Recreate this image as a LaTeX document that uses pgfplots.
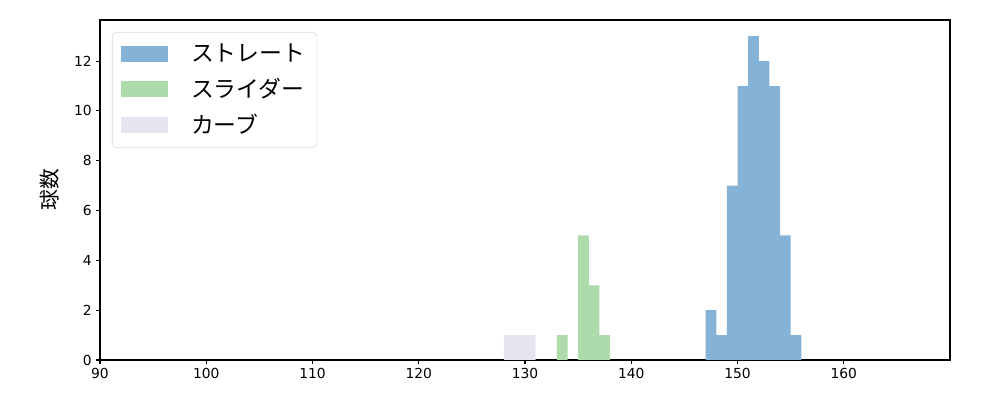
\documentclass[border=0pt]{standalone}
\usepackage{fontspec}
\setmainfont{DejaVu Sans}
\newfontfamily\jp{Noto Sans CJK JP}
\usepackage{pgfplots}
\pgfplotsset{compat=1.18}
\definecolor{cblue}{RGB}{132,179,215}
\definecolor{cgreen}{RGB}{173,219,172}
\definecolor{clav}{RGB}{230,230,241}
\begin{document}
\begin{tikzpicture}
\begin{axis}[
  scale only axis, width=8.5in, height=3.4in,
  xmin=90, xmax=170, ymin=0, ymax=13.65,
  xtick={90,100,...,160}, ytick={0,2,...,12},
  xtick pos=bottom, ytick pos=left,
  tick align=outside, tick style={black, line width=0.8pt},
  major tick length=0.035in,
  axis line style={line width=0.8pt},
  /pgf/number format/assume math mode=true,
  ticklabel style={font=\fontsize{10}{12}\selectfont},
  ylabel={\jp 球数}, ylabel style={font=\fontsize{15}{18}\selectfont},
  ylabel shift=0.05in,
  legend cell align=left,
  legend style={at={(0.0141,0.9647)}, anchor=north west, draw=black!15, rounded corners=3pt,
    font=\jp\fontsize{16.5}{19}\selectfont, row sep=0.09in, inner xsep=0.09in, inner ysep=0.09in},
  legend image code/.code={\fill[#1, draw=none, sharp corners] (0in,-0.08in) rectangle (0.47in,0.08in);},
]
\addplot[fill=cblue, draw=none, const plot] coordinates {
 (147,0)(147,2)(148,1)(149,7)(150,11)(151,13)(152,12)(153,11)(154,5)(155,1)(156,1)(156,0)} \closedcycle;
\addlegendentry{\hspace{0.2in}ストレート}
\addplot[fill=cgreen, draw=none, const plot] coordinates {
 (133,0)(133,1)(134,0)(135,5)(136,3)(137,1)(138,1)(138,0)} \closedcycle;
\addlegendentry{\hspace{0.2in}スライダー}
\addplot[fill=clav, draw=none, const plot] coordinates {
 (128,0)(128,1)(131,1)(131,0)} \closedcycle;
\addlegendentry{\hspace{0.2in}カーブ}
\end{axis}
\useasboundingbox (-1in,-0.4in) rectangle (9in,3.6in);
\end{tikzpicture}
\end{document}
